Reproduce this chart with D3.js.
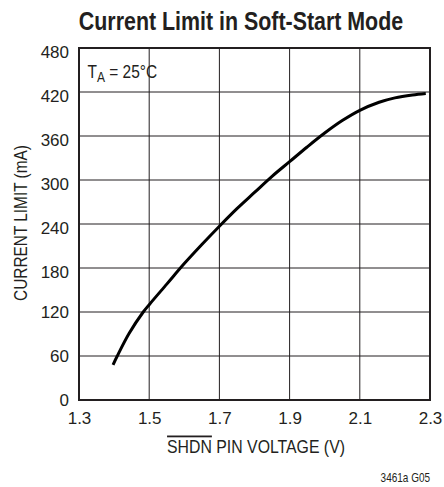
<!DOCTYPE html>
<html><head><meta charset="utf-8">
<script src="https://cdn.jsdelivr.net/npm/d3@7"></script>
<style>body{margin:0;background:#fff}svg{display:block}text{font-family:"Liberation Sans Narrow","Arial Narrow","Liberation Sans",Arial,sans-serif;fill:#231f20}</style>
</head><body><svg id="c" width="444" height="487"></svg>
<script>
const voltage = [1.397,1.409,1.443,1.483,1.5,1.55,1.6,1.65,1.7,1.75,1.8,1.85,1.9,1.95,2.0,2.05,2.1,2.155,2.2,2.25,2.288];
const current = [48,60,91,120,130,158,186,212,237,261,283,305,325,345,364,381,395,406,412,416,418];
const xTicks = [1.3,1.5,1.7,1.9,2.1,2.3];
const yTicks = [0,60,120,180,240,300,360,420,480];

const svg = d3.select("#c");
const L=79,R=430,T=48,B=400;
const x = d3.scaleLinear().domain([1.3,2.3]).range([L,R]);
const y = d3.scaleLinear().domain([0,480]).range([B,T]);
const ink = "#231f20";

// grid
svg.append("g").selectAll("line").data(xTicks.slice(1,-1)).join("line")
 .attr("x1",d=>x(d)).attr("x2",d=>x(d)).attr("y1",T).attr("y2",B)
 .attr("stroke",ink).attr("stroke-width",1);
svg.append("g").selectAll("line").data(yTicks.slice(1,-1)).join("line")
 .attr("y1",d=>y(d)).attr("y2",d=>y(d)).attr("x1",L).attr("x2",R)
 .attr("stroke",ink).attr("stroke-width",1);
svg.append("rect").attr("x",L).attr("y",T).attr("width",R-L).attr("height",B-T)
 .attr("fill","none").attr("stroke",ink).attr("stroke-width",2);

// axes tick labels
const xa = svg.append("g").attr("transform",`translate(0,${B})`)
 .call(d3.axisBottom(x).tickValues(xTicks).tickSize(0).tickPadding(12).tickFormat(d3.format(".1f")));
xa.select(".domain").remove();
xa.selectAll("text").attr("font-size",17).style("font-family",null);
const ya = svg.append("g").attr("transform",`translate(${L},0)`)
 .call(d3.axisLeft(y).tickValues(yTicks).tickSize(0).tickPadding(10));
ya.select(".domain").remove();
ya.selectAll("text").attr("font-size",17).style("font-family",null)
 .attr("y",d=>d>=180?4.5:0.5);
svg.selectAll(".tick text").attr("fill",ink);

// curve
const pts = voltage.map((v,i)=>[v,current[i]]);
svg.append("path").datum(pts)
 .attr("d",d3.line().x(d=>x(d[0])).y(d=>y(d[1])).curve(d3.curveCatmullRom.alpha(0.5)))
 .attr("fill","none").attr("stroke","#000").attr("stroke-width",3).attr("stroke-linecap","butt");

// title
svg.append("text").attr("transform","translate(241,29.5) scale(0.856,1)").attr("text-anchor","middle")
 .attr("font-size",25).attr("font-weight","bold")
 .text("Current Limit in Soft-Start Mode");

// annotation
const ta = svg.append("text").attr("transform","translate(87.5,78.3) scale(0.86,1)").attr("font-size",18);
ta.append("tspan").text("T");
ta.append("tspan").attr("dy",4).attr("font-size",14).text("A");
ta.append("tspan").attr("dy",-4).text(" = 25°C");

// x title
const xt = svg.append("text").attr("transform","translate(256,452.5) scale(0.88,1)").attr("text-anchor","middle").attr("font-size",18);
xt.append("tspan").attr("text-decoration","overline").text("SHDN");
xt.append("tspan").text(" PIN VOLTAGE (V)");

// y title
svg.append("text").attr("transform","translate(27,223) rotate(-90) scale(0.88,1)").attr("text-anchor","middle")
 .attr("font-size",17.5).text("CURRENT LIMIT (mA)");

// footnote
svg.append("text").attr("transform","translate(430,481.5) scale(0.8,1)").attr("text-anchor","end").attr("font-size",12.5)
 .text("3461a G05");
</script></body></html>
